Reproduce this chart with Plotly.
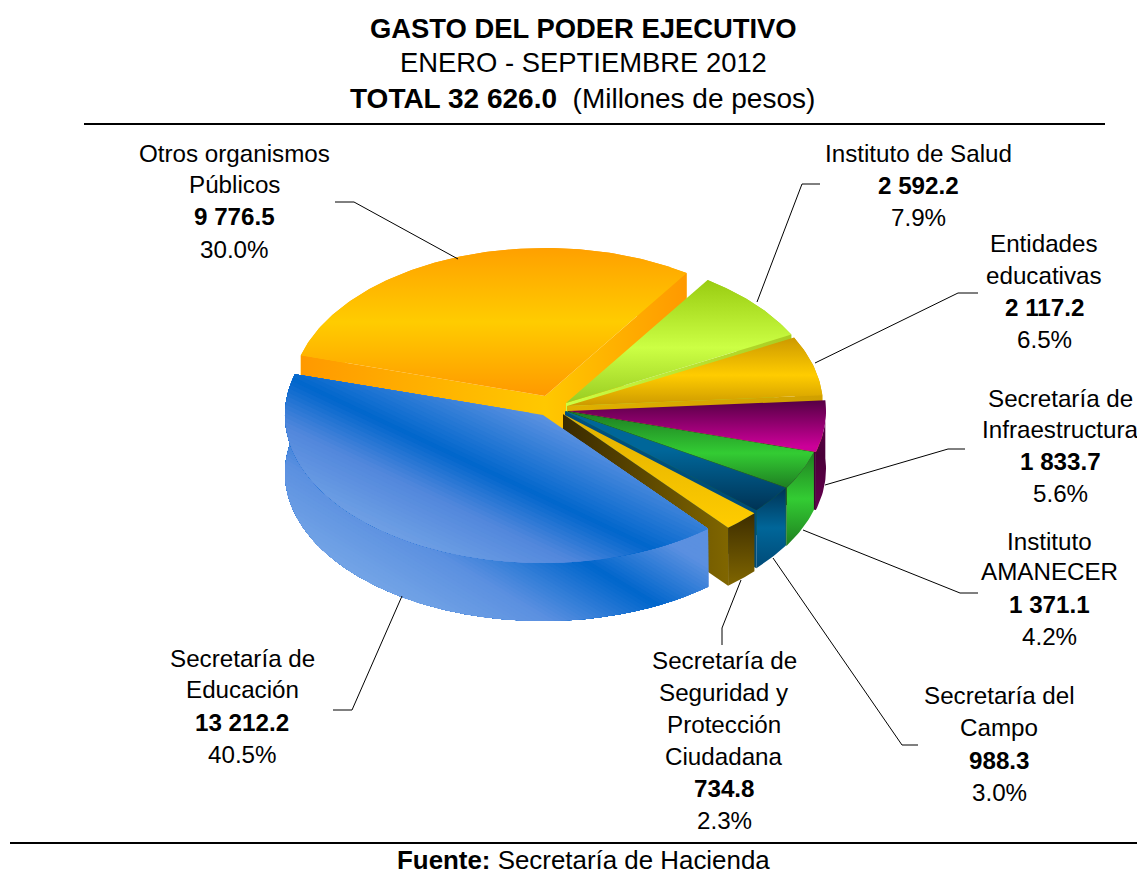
import math
import plotly.graph_objects as go

# ---- data ----
names = [["Otros organismos", "Públicos"], ["Instituto de Salud"], ["Entidades", "educativas"],
         ["Secretaría de", "Infraestructura"], ["Instituto", "AMANECER"], ["Secretaría del", "Campo"],
         ["Secretaría de", "Seguridad y", "Protección", "Ciudadana"], ["Secretaría de", "Educación"]]
values = [9776.5, 2592.2, 2117.2, 1833.7, 1371.1, 988.3, 734.8, 13212.2]
title_lines = ["GASTO DEL PODER EJECUTIVO", "ENERO - SEPTIEMBRE 2012"]
total_label = "TOTAL 32 626.0"
unit_label = "(Millones de pesos)"
source_label = "Secretaría de Hacienda"

# ---- geometry and style ----
W, H = 1137, 875
START = -74.0
RY, DEPTH = 148, 58
radius_x = [254, 254, 256, 258, 258, 258, 258, 258]
apex_x = [545, 566, 567, 568, 566, 565, 563, 543]
apex_y = [396, 403, 406, 411, 411, 411, 414, 415]
top_col = [
    [(0, "#FFA000"), (.5, "#FFCC00"), (1, "#FF9900")],
    [(0, "#99CC11"), (.55, "#CCFF44"), (1, "#99CC22")],
    [(0, "#CC9900"), (.55, "#FFCC00"), (1, "#CC9900")],
    [(0, "#550044"), (.9, "#CC0099"), (1, "#CC0099")],
    [(0, "#1E7A22"), (.55, "#33CC33"), (1, "#1F7F22")],
    [(0, "#006699"), (.4, "#006699"), (1, "#003355")],
    [(0, "#E0B000"), (1, "#FFCC00")],
    None,
]
side_col = [
    [(0, "#FFA000"), (1, "#FFCC00")],
    [(0, "#99CC11"), (1, "#B5E030")],
    [(0, "#CC9900"), (1, "#E0B000")],
    [(0, "#660050"), (.5, "#4A0038"), (1, "#660050")],
    [(0, "#1F8020"), (.5, "#33CC33"), (1, "#1F8020")],
    [(0, "#003355"), (.5, "#006699"), (1, "#004A77")],
    [(0, "#3D2D00"), (1, "#806600")],
    [(0, "#5B90E0"), (1, "#5B90E0")],
]
wall_a = ["#FF9900", "#AACC22", "#D0A000", "#440033", "#1A6A1E", "#004C77", "#806600", "#5B90E0"]
wall_b = ["#FFC800", "#CCFF44", "#E0B000", "#220018", "#1F7F22", "#005080", "#3A2A00", "#5B90E0"]
BLUE_TOP = [(-80, "#6495E2"), (0, "#0066CC"), (45, "#5287DC"), (120, "#7AAAE8")]
BLUE_SIDE = [(-70, "#5B90E0"), (0, "#0066CC"), (80, "#5B90E0"), (170, "#7AAAE8")]
leaders = [
    ([335, 354, 458], [202, 202, 259]), ([820, 802, 757], [184, 184, 302]),
    ([978, 958, 815], [293, 293, 363]), ([965, 948, 825], [449, 449, 485]),
    ([978, 960, 803], [593, 593, 530]), ([918, 902, 773], [745, 745, 558]),
    ([722, 722, 741], [645, 628, 580]), ([333, 352, 402], [710, 710, 596]),
]
label_x = [234, 918, 1044, 1060, 1049, 999, 724, 242]
label_y = [[153, 184, 216, 249], [153, 185, 217], [243, 275, 307, 339], [398, 429, 461, 493],
           [541, 571, 604, 636], [695, 727, 760, 792], [660, 692, 724, 756, 788, 820], [658, 689, 722, 754]]
FONT = "Liberation Sans, Arial, sans-serif"
LABEL_SIZE = 24.2

fig = go.Figure()


def poly(pts, scale=None, kind="vertical", color=None):
    xs = [p[0] for p in pts] + [pts[0][0]]
    ys = [p[1] for p in pts] + [pts[0][1]]
    if color:
        kw = dict(fillcolor=color)
    else:
        # the y axis runs downward, so a vertical colour scale is given bottom-first
        cs = [[1 - a, b] for a, b in scale][::-1] if kind == "vertical" else [[a, b] for a, b in scale]
        kw = dict(fillgradient=dict(type=kind, colorscale=cs))
    fig.add_trace(go.Scatter(x=xs, y=ys, mode="lines", line=dict(width=0), fill="toself",
                             hoverinfo="skip", showlegend=False, **kw))


def mix(stops, d):
    if d <= stops[0][0]:
        return stops[0][1]
    for (a, ca), (b, cb) in zip(stops, stops[1:]):
        if d <= b:
            f = (d - a) / (b - a)
            c = [round(int(ca[i:i + 2], 16) * (1 - f) + int(cb[i:i + 2], 16) * f) for i in (1, 3, 5)]
            return "#%02X%02X%02X" % tuple(c)
    return stops[-1][1]


def clip(pts, dist, lim):
    out = []
    for i, p in enumerate(pts):
        q = pts[(i + 1) % len(pts)]
        dp, dq = dist(p) - lim, dist(q) - lim
        if dp >= 0:
            out.append(p)
        if dp * dq < 0:
            f = dp / (dp - dq)
            out.append((p[0] + f * (q[0] - p[0]), p[1] + f * (q[1] - p[1])))
    return out


def band_fill(pts, dist, stops):
    ds = [dist(p) for p in pts]
    lo, hi, step = min(ds), max(ds), 4
    d = lo
    while d < hi:
        part = pts if d == lo else clip(pts, dist, d)
        if len(part) >= 3:
            poly(part, color=mix(stops, d + step / 2))
        d += step


total = sum(values)
a0 = START
for i, v in enumerate(values):
    a1 = a0 + v / total * 360
    cx, cy = apex_x[i], apex_y[i]
    n = max(8, int(a1 - a0))
    arc = []
    for k in range(n + 1):
        t = math.radians(a0 + (a1 - a0) * k / n)
        arc.append((cx + radius_x[i] * math.sin(t), cy - RY * math.cos(t)))
    low = lambda p: (p[0], p[1] + DEPTH)
    apex = (cx, cy)
    if i == len(values) - 1:
        dist_side = lambda p: p[1] - 565 - .6 * (p[0] - 590)
        dist_top = lambda p: (p[1] - 393 - .47 * (p[0] - 320)) / 1.105
        band_fill(arc + [low(p) for p in arc[::-1]], dist_side, BLUE_SIDE)
        band_fill(arc + [apex], dist_top, BLUE_TOP)
    else:
        poly(arc + [low(p) for p in arc[::-1]], side_col[i])
        # only the radial walls that face the viewer are drawn
        for end, seen in ((arc[0], math.sin(math.radians(a0)) < 0), (arc[-1], math.sin(math.radians(a1)) > 0)):
            if not seen:
                continue
            wall = [apex, end, low(end), low(apex)]
            cs = [(0, wall_a[i]), (1, wall_b[i])]
            if end[0] > cx:
                cs = [(0, wall_b[i]), (1, wall_a[i])]
            poly(wall, cs, "horizontal")
        poly(arc + [apex], top_col[i])
    a0 = a1

for xs, ys in leaders:
    fig.add_trace(go.Scatter(x=xs, y=ys, mode="lines", line=dict(color="#000000", width=1),
                             hoverinfo="skip", showlegend=False))
for y, x0, x1, w in [(124, 84, 1105, 2), (843, 10, 1137, 2)]:
    fig.add_trace(go.Scatter(x=[x0, x1], y=[y, y], mode="lines", line=dict(color="#000000", width=w),
                             hoverinfo="skip", showlegend=False))


def text(x, y, s, size=LABEL_SIZE):
    fig.add_annotation(x=x, y=y, text=s, showarrow=False, xref="x", yref="y", xanchor="center", yanchor="middle",
                       borderpad=0, font=dict(family=FONT, size=size, color="#000000"))


text(583, 28, "<b>%s</b>" % title_lines[0], 27.4)
text(583, 62, title_lines[1], 27.4)
text(582, 98, "<b>%s</b>  %s" % (total_label, unit_label), 28)
text(583, 860, "<b>Fuente:</b> %s" % source_label, 25.9)

for i, v in enumerate(values):
    lines = names[i] + ["<b>%s</b>" % f"{v:,.1f}".replace(",", " "), f"{v / total * 100:.1f}%"]
    for s, y in zip(lines, label_y[i]):
        text(label_x[i], y, s)

fig.update_layout(width=W, height=H, margin=dict(l=0, r=0, t=0, b=0), paper_bgcolor="#FFFFFF",
                  plot_bgcolor="#FFFFFF", showlegend=False,
                  xaxis=dict(range=[0, W], visible=False, fixedrange=True),
                  yaxis=dict(range=[H, 0], visible=False, fixedrange=True))
fig.write_html("out.html", config={"displayModeBar": False},
               post_script="document.body.style.margin='0';")
